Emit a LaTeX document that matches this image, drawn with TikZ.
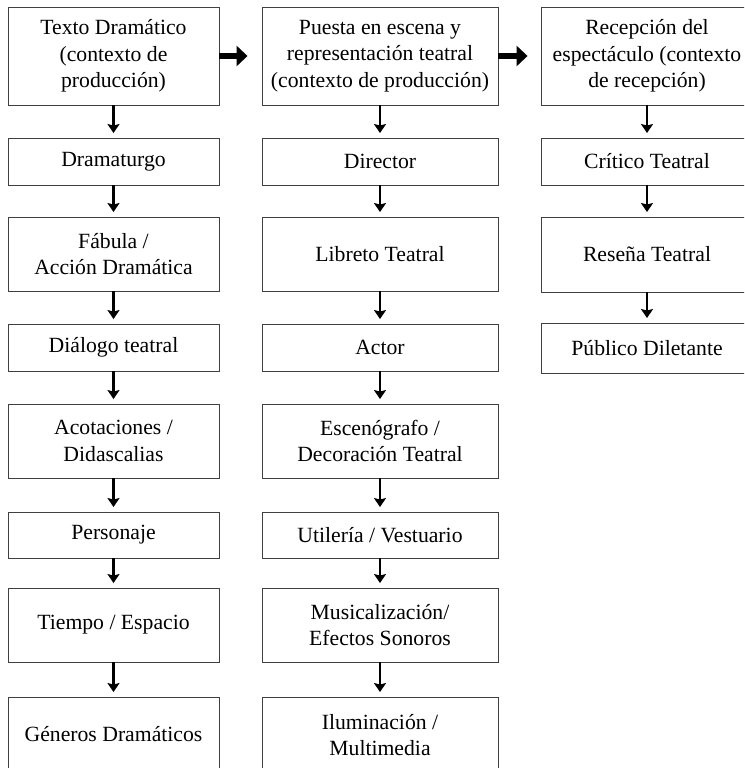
\documentclass[tikz,border=0pt]{standalone}
\usepackage{fontspec}
\setmainfont{Liberation Serif}
\usetikzlibrary{arrows.meta}
\begin{document}
\begin{tikzpicture}[x=1pt,y=-1pt,
  box/.style={draw=black!75,line width=0.9pt,fill=white,align=center,
    inner sep=0pt,font=\fontsize{21.7}{26.5}\selectfont},
  down/.style={line width=2.2pt,-{Stealth[length=9pt,width=12pt,inset=1.5pt]},shorten >=4.5pt},
  side/.style={line width=6pt,-{Triangle[length=11pt,width=20pt]}}]
\useasboundingbox (0,0) rectangle (744,768);
\clip (0,0) rectangle (744,768);
% column widths and centres
\def\wa{211} \def\xa{113.5}
\def\wb{236} \def\xb{380}
\def\wc{212} \def\xc{647}
% first column: dramatic text
\node[box,minimum width=\wa,minimum height=98] (a1) at (\xa,56) {Texto Dramático\\(contexto de\\producción)};
\node[box,minimum width=\wa,minimum height=47] (a2) at (\xa,161.5) {Dramaturgo};
\node[box,minimum width=\wa,minimum height=74] (a3) at (\xa,254) {Fábula /\\Acción Dramática};
\node[box,minimum width=\wa,minimum height=47] (a4) at (\xa,347.5) {Diálogo teatral};
\node[box,minimum width=\wa,minimum height=74] (a5) at (\xa,441) {Acotaciones /\\Didascalias};
\node[box,minimum width=\wa,minimum height=46] (a6) at (\xa,535) {Personaje};
\node[box,minimum width=\wa,minimum height=74] (a7) at (\xa,625) {Tiempo / Espacio};
\node[box,minimum width=\wa,minimum height=74] (a8) at (\xa,734) {Géneros Dramáticos};
% second column: staging
\node[box,minimum width=\wb,minimum height=98] (b1) at (\xb,56) {Puesta en escena y\\representación teatral\\(contexto de producción)};
\node[box,minimum width=\wb,minimum height=47] (b2) at (\xb,161.5) {Director};
\node[box,minimum width=\wb,minimum height=74] (b3) at (\xb,254) {Libreto Teatral};
\node[box,minimum width=\wb,minimum height=47] (b4) at (\xb,347.5) {Actor};
\node[box,minimum width=\wb,minimum height=74] (b5) at (\xb,441) {Escenógrafo /\\Decoración Teatral};
\node[box,minimum width=\wb,minimum height=46] (b6) at (\xb,535) {Utilería / Vestuario};
\node[box,minimum width=\wb,minimum height=74] (b7) at (\xb,625) {Musicalización/\\Efectos Sonoros};
\node[box,minimum width=\wb,minimum height=76] (b8) at (\xb,735) {Iluminación /\\Multimedia};
% third column: reception
\node[box,minimum width=\wc,minimum height=98] (c1) at (\xc,56) {Recepción del\\espectáculo (contexto\\de recepción)};
\node[box,minimum width=\wc,minimum height=47] (c2) at (\xc,161.5) {Crítico Teatral};
\node[box,minimum width=\wc,minimum height=75] (c3) at (\xc,254.5) {Reseña Teatral};
\node[box,minimum width=\wc,minimum height=50] (c4) at (\xc,348) {Público Diletante};
% vertical flow
\foreach \p/\n in {a1/a2,a2/a3,a3/a4,a4/a5,a5/a6,a6/a7,a7/a8,
                   b1/b2,b2/b3,b3/b4,b4/b5,b5/b6,b6/b7,b7/b8,
                   c1/c2,c2/c3,c3/c4}
  \draw[down] (\p.south) -- (\n.north);
% horizontal flow between the columns
\draw[side,shorten >=14pt] (a1.east) -- (b1.west);
\draw[side,shorten >=13pt] (b1.east) -- (c1.west);
\end{tikzpicture}
\end{document}
